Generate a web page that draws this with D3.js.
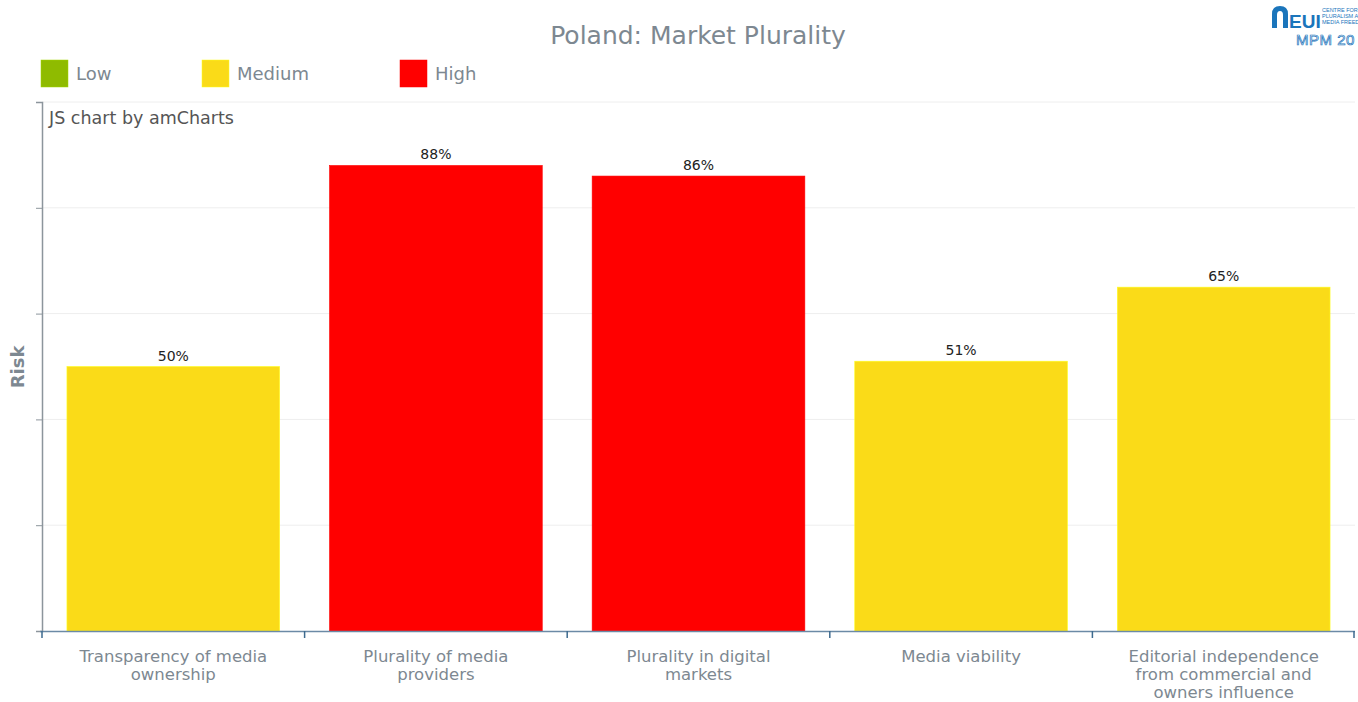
<!DOCTYPE html>
<html>
<head>
<meta charset="utf-8">
<script src="https://cdn.jsdelivr.net/npm/d3@7"></script>
<style>
  html, body { margin: 0; padding: 0; background: #fff; }
  svg { display: block; font-family: "DejaVu Sans", Verdana, sans-serif; }
</style>
</head>
<body>
<svg id="chart" width="1358" height="702"></svg>
<script>
// Market Plurality risk scores per indicator
const categories = [
  "Transparency of media ownership",
  "Plurality of media providers",
  "Plurality in digital markets",
  "Media viability",
  "Editorial independence from commercial and owners influence"
];
const categoryLines = [
  ["Transparency of media", "ownership"],
  ["Plurality of media", "providers"],
  ["Plurality in digital", "markets"],
  ["Media viability"],
  ["Editorial independence", "from commercial and", "owners influence"]
];
const riskValues = [50, 88, 86, 51, 65];
const riskLevels = ["Medium", "High", "High", "Medium", "Medium"];
const legendLabels = ["Low", "Medium", "High"];
const yTicks = [0, 20, 40, 60, 80, 100];

const levelColor = { Low: "#8fbb00", Medium: "#fadb18", High: "#ff0000" };

const svg = d3.select("#chart");
const plot = { left: 42, right: 1355, top: 102, bottom: 631 };

const x = d3.scaleBand().domain(categories).range([plot.left, plot.right])
  .paddingInner(0.19).paddingOuter(0.095);
const xEdges = d3.scaleLinear().domain([0, categories.length]).range([plot.left, plot.right]);
const y = d3.scaleLinear().domain([0, 100]).range([plot.bottom, plot.top]);

// Title
svg.append("text")
  .attr("x", 698).attr("y", 44)
  .attr("text-anchor", "middle")
  .attr("font-size", 25)
  .attr("fill", "#7d8891")
  .text("Poland: Market Plurality");

// Logo block (top right, runs off the edge)
const logo = svg.append("g");
logo.append("path")
  .attr("d", "M1272,28 L1272,14 Q1272,6 1280,6 Q1288,6 1288,14 L1288,28 L1283,28 L1283,15 Q1283,11 1280,11 Q1277,11 1277,15 L1277,28 Z")
  .attr("fill", "#1b75bb");
logo.append("text").attr("x", 1289).attr("y", 28)
  .attr("font-size", 19).attr("font-weight", "bold").attr("fill", "#1b75bb")
  .attr("font-family", "Liberation Sans Narrow, Liberation Sans, sans-serif")
  .text("EUI");
[["CENTRE FOR", 12], ["PLURALISM A", 18], ["MEDIA FREED", 24]].forEach(([t, yy]) => {
  logo.append("text").attr("x", 1322).attr("y", yy)
    .attr("font-size", 5.5).attr("fill", "#1b75bb")
    .attr("font-family", "Liberation Sans, sans-serif").text(t);
});
logo.append("text").attr("x", 1296).attr("y", 45)
  .attr("font-size", 15).attr("letter-spacing", 0.5).attr("fill", "#fff").attr("stroke", "#1b75bb").attr("stroke-width", 0.7)
  .attr("font-family", "Liberation Sans, sans-serif")
  .text("MPM 20");

// Legend
const legendX = [41, 202, 400];
legendLabels.forEach((lab, i) => {
  const g = svg.append("g").attr("transform", `translate(${legendX[i]},60)`);
  g.append("rect").attr("width", 27).attr("height", 27)
    .attr("fill", levelColor[lab]).attr("stroke", d3.color(levelColor[lab]).brighter(0.4)).attr("stroke-width", 0.5);
  g.append("text").attr("x", 35).attr("y", 20)
    .attr("font-size", 18).attr("fill", "#7d8891").text(lab);
});

// Gridlines
svg.append("g").selectAll("line").data(yTicks.slice(1)).join("line")
  .attr("x1", plot.left).attr("x2", plot.right)
  .attr("y1", d => y(d)).attr("y2", d => y(d))
  .attr("stroke", "#eeeeee").attr("stroke-width", 1);

// Y axis (unlabelled ticks)
const yAxis = svg.append("g").attr("transform", `translate(${plot.left},0)`)
  .call(d3.axisLeft(y).tickValues(yTicks).tickSize(6).tickFormat(""));
yAxis.select(".domain").attr("stroke", "#8c959c").attr("stroke-width", 1.5);
yAxis.selectAll(".tick line").attr("stroke", "#8c959c");

svg.append("text")
  .attr("transform", `translate(24,367) rotate(-90)`)
  .attr("text-anchor", "middle")
  .attr("font-size", 18).attr("font-weight", "bold")
  .attr("fill", "#7d8891").text("Risk");

// Credit text
svg.append("text").attr("x", 49).attr("y", 124)
  .attr("font-size", 17.5).attr("fill", "#555555").text("JS chart by amCharts");

// Bars
svg.append("g").selectAll("rect").data(categories).join("rect")
  .attr("x", d => x(d))
  .attr("width", x.bandwidth())
  .attr("y", (d, i) => y(riskValues[i]))
  .attr("height", (d, i) => y(0) - y(riskValues[i]))
  .attr("fill", (d, i) => levelColor[riskLevels[i]])
  .attr("stroke", (d, i) => d3.color(levelColor[riskLevels[i]]).brighter(0.6))
  .attr("stroke-width", 0.6);

// Value labels
svg.append("g").selectAll("text").data(categories).join("text")
  .attr("x", d => x(d) + x.bandwidth() / 2)
  .attr("y", (d, i) => y(riskValues[i]) - 6)
  .attr("text-anchor", "middle")
  .attr("font-size", 14).attr("fill", "#222")
  .text((d, i) => riskValues[i] + "%");

// X axis with boundary ticks
svg.append("line")
  .attr("x1", plot.left - 2).attr("x2", plot.right)
  .attr("y1", plot.bottom + 0.5).attr("y2", plot.bottom + 0.5)
  .attr("stroke", "#6b8aa6").attr("stroke-width", 1.5);
svg.append("g").selectAll("line").data(d3.range(categories.length + 1)).join("line")
  .attr("x1", d => Math.min(xEdges(d), plot.right - 1)).attr("x2", d => Math.min(xEdges(d), plot.right - 1))
  .attr("y1", plot.bottom).attr("y2", plot.bottom + 7)
  .attr("stroke", "#3d6a8f").attr("stroke-width", 1.5);

// Category labels
categories.forEach((c, i) => {
  const cx = x(c) + x.bandwidth() / 2;
  const t = svg.append("text")
    .attr("x", cx)
    .attr("y", 662)
    .attr("text-anchor", "middle")
    .attr("font-size", 16.5).attr("fill", "#7d8891");
  categoryLines[i].forEach((line, j) => {
    t.append("tspan").attr("x", cx).attr("dy", j === 0 ? 0 : 17.8).text(line);
  });
});
</script>
</body>
</html>
